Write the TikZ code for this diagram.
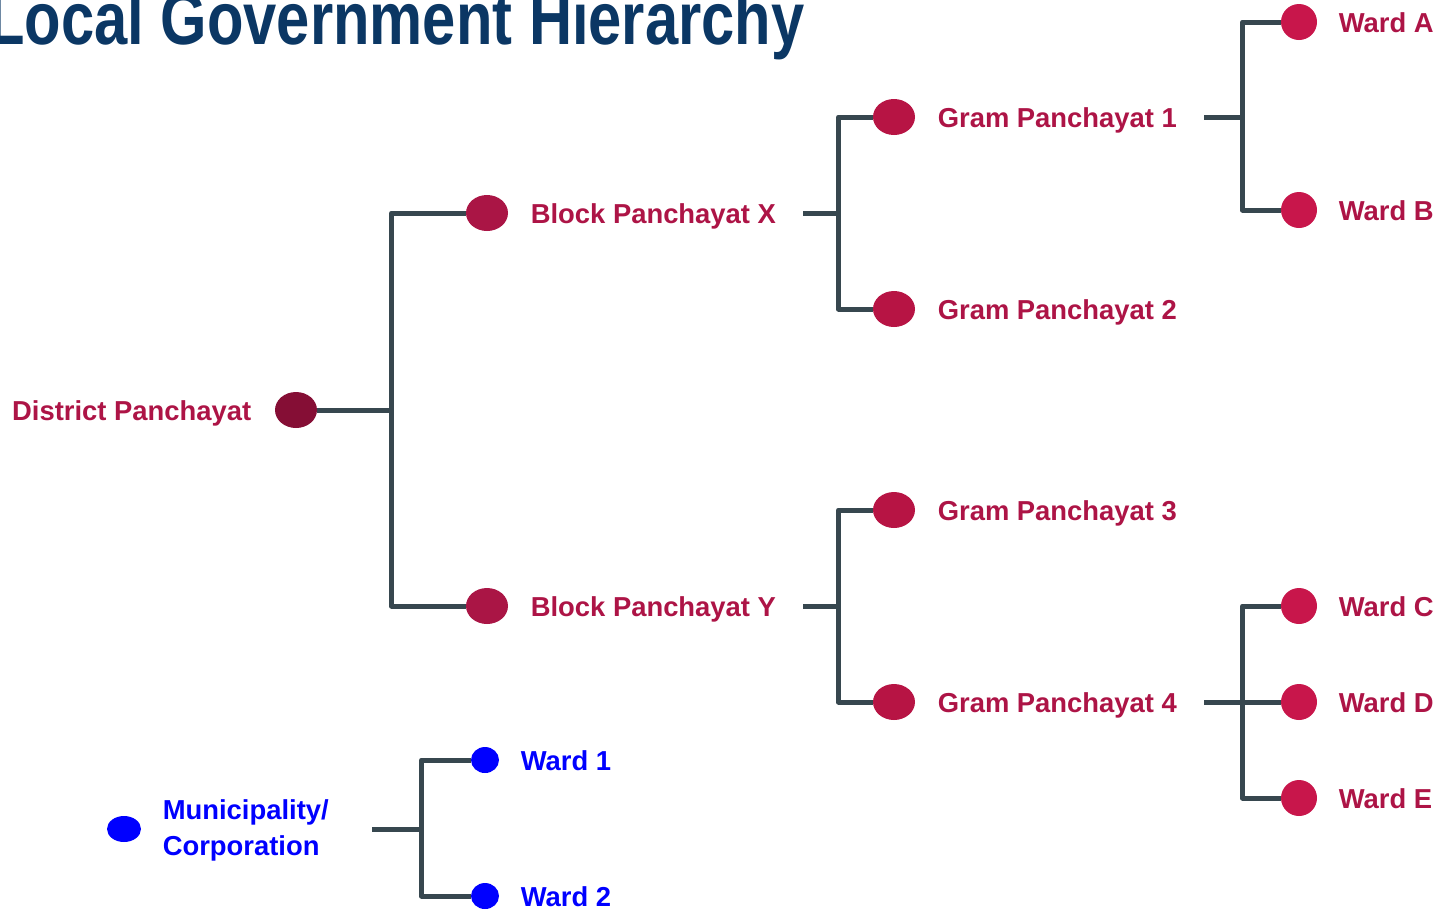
\documentclass[tikz,border=0pt]{standalone}
\usepackage{fontspec}
\setmainfont{Liberation Sans}
\usetikzlibrary{shapes.geometric}
\definecolor{navy}{HTML}{0B3764}
\definecolor{linkgray}{HTML}{37474F}
\definecolor{distred}{HTML}{850E35}
\definecolor{blockred}{HTML}{AA1545}
\definecolor{gramred}{HTML}{B71444}
\definecolor{wardred}{HTML}{C8164B}
\definecolor{labelred}{HTML}{AD1446}
\definecolor{cityblue}{HTML}{0000FF}
\tikzset{
    dot/.style={ellipse, minimum width=21pt, minimum height=18pt, inner sep=0pt},
    warddot/.style={circle, minimum size=18pt, inner sep=0pt, fill=wardred},
    lbl/.style={font=\bfseries\fontsize{13.7}{18}\selectfont, text=labelred, inner sep=0pt, anchor=base west},
    link/.style={draw=linkgray, line width=2.5pt, line join=round}
}

\begin{document}
\begin{tikzpicture}[x=0.5pt, y=-0.5pt]
    \useasboundingbox (0,0) rectangle (1435,912); % the page
    \node[anchor=base west, inner sep=0pt, text=navy] (title) at (-12,44)
        {\resizebox{408pt}{27pt}{\bfseries Local Government Hierarchy}};

    % Rural side
    \node[dot, fill=distred] (dp) at (296,410) {};
    \node[dot, fill=blockred] (bx) at (487,213) {};
    \node[dot, fill=blockred] (by) at (487,606) {};
    \foreach \n/\y in {g1/117, g2/309, g3/510, g4/702}
        \node[dot, fill=gramred] (\n) at (894,\y) {};
    \foreach \n/\y in {wa/22, wb/210, wc/606, wd/702, we/798}
        \node[warddot] (\n) at (1299,\y) {};

    \node[lbl, anchor=base east] (dpl) at ([xshift=-11.5pt,yshift=-5pt]dp.west) {District Panchayat};
    \node[lbl] (bxl) at ([xshift=11pt,yshift=-5pt]bx.east) {Block Panchayat X};
    \node[lbl] (byl) at ([xshift=11pt,yshift=-5pt]by.east) {Block Panchayat Y};
    \foreach \n/\t in {g1/1, g2/2, g3/3, g4/4}
        \node[lbl] (\n l) at ([xshift=11pt,yshift=-5pt]\n.east) {Gram Panchayat \t};
    \foreach \n/\t in {wa/A, wb/B, wc/C, wd/D, we/E}
        \node[lbl] (\n l) at ([xshift=10.5pt,yshift=-5pt]\n.east) {Ward \t};

    \draw[link] (dp.east) -- ++(74,0) coordinate (dj);
    \draw[link] (bx.west) -| (dj) |- (by.west);
    \draw[link] (bxl.east |- bx) ++(27,0) -- ++(35,0) coordinate (xj);
    \draw[link] (g1.west) -| (xj) |- (g2.west);
    \draw[link] (byl.east |- by) ++(27,0) -- ++(35,0) coordinate (yj);
    \draw[link] (g3.west) -| (yj) |- (g4.west);
    \draw[link] (g1l.east |- g1) ++(27,0) -- ++(38,0) coordinate (j1);
    \draw[link] (wa.west) -| (j1) |- (wb.west);
    \draw[link] (g4l.east |- g4) ++(27,0) -- ++(38,0) coordinate (j4);
    \draw[link] (wc.west) -| (j4) |- (we.west);
    \draw[link] (j4) -- (wd.west);

    % Urban side
    \node[dot, fill=cityblue, minimum width=17pt, minimum height=13pt] (mc) at (124,829) {};
    \node[dot, fill=cityblue, minimum width=14pt, minimum height=13pt] (w1) at (485,760) {};
    \node[dot, fill=cityblue, minimum width=14pt, minimum height=13pt] (w2) at (485,896) {};
    \node[lbl, text=cityblue, anchor=north west, align=left] (mcl) at ([xshift=10.5pt,yshift=15pt]mc.east) {Municipality/\\Corporation};
    \node[lbl, text=cityblue] (w1l) at ([xshift=10.5pt,yshift=-5pt]w1.east) {Ward 1};
    \node[lbl, text=cityblue] (w2l) at ([xshift=10.5pt,yshift=-5pt]w2.east) {Ward 2};
    \draw[link] (mc.east) ++(231,0) -- ++(49,0) coordinate (mj);
    \draw[link] (w1.west) -| (mj) |- (w2.west);
\end{tikzpicture}
\end{document}
